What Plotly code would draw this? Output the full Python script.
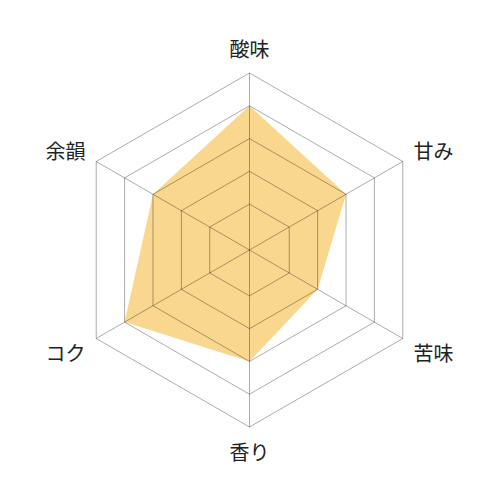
import plotly.graph_objects as go

# taste profile, clockwise from the top
categories = ["酸味", "甘み", "苦味", "香り", "コク", "余韻"]
scores = [4, 3, 2, 3, 4, 3]
rings = [1, 2, 3, 4, 5]

FONT = "Noto Sans CJK JP"
GRID = "rgba(0,0,0,0.33)"
DOMAIN_X = [0.129, 0.837]
DOMAIN_Y = [0.162, 0.870]

closed_theta = categories + categories[:1]
closed_r = scores + scores[:1]

fig = go.Figure()
fig.add_trace(
    go.Scatterpolar(
        r=closed_r,
        theta=closed_theta,
        mode="lines",
        fill="toself",
        fillcolor="rgba(245,188,66,0.6)",
        line=dict(width=0),
        hoverinfo="skip",
        subplot="polar",
    )
)
# second (transparent) subplot on top, so the grid shows over the fill
fig.add_trace(
    go.Scatterpolar(
        r=closed_r,
        theta=closed_theta,
        mode="lines",
        line=dict(width=0, color="rgba(0,0,0,0)"),
        hoverinfo="skip",
        subplot="polar2",
    )
)


def polar_layout(show_labels, show_grid):
    return dict(
        domain=dict(x=DOMAIN_X, y=DOMAIN_Y),
        gridshape="linear",
        bgcolor="rgba(0,0,0,0)",
        radialaxis=dict(
            range=[-0.4, 5],
            tickvals=rings,
            showticklabels=False,
            ticks="",
            showline=False,
            showgrid=show_grid,
            gridcolor=GRID,
            gridwidth=1,
        ),
        angularaxis=dict(
            type="category",
            categoryarray=categories,
            rotation=90,
            direction="clockwise",
            showticklabels=show_labels,
            ticks="outside",
            ticklen=8,
            tickcolor="rgba(0,0,0,0)",
            showline=show_grid,
            linecolor=GRID,
            linewidth=1,
            showgrid=show_grid,
            gridcolor=GRID,
            gridwidth=1,
            tickfont=dict(family=FONT, size=20, color="#222"),
        ),
    )


fig.update_layout(
    width=500,
    height=500,
    margin=dict(l=0, r=0, t=0, b=0),
    paper_bgcolor="white",
    showlegend=False,
    polar=polar_layout(True, False),
    polar2=polar_layout(False, True),
)

fig.write_html("out.html")
